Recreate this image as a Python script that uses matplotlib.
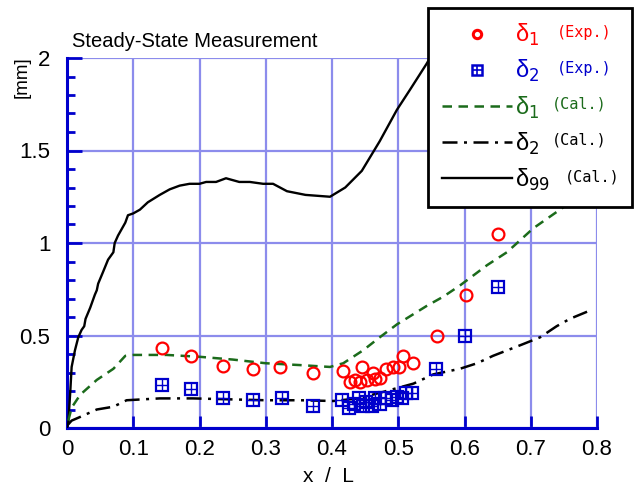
import numpy as np
import matplotlib
matplotlib.use('Agg')
import matplotlib.pyplot as plt
from matplotlib.lines import Line2D
from matplotlib.legend_handler import HandlerTuple

d1ExpX = [0.143, 0.187, 0.235, 0.281, 0.322, 0.372, 0.417, 0.427, 0.435, 0.442, 0.445, 0.453,
          0.462, 0.465, 0.472, 0.482, 0.492, 0.501, 0.507, 0.522, 0.558, 0.602, 0.65]
d1ExpY = [0.43, 0.39, 0.335, 0.32, 0.33, 0.30, 0.31, 0.25, 0.26, 0.25, 0.33, 0.26,
          0.30, 0.265, 0.27, 0.32, 0.33, 0.33, 0.39, 0.35, 0.50, 0.72, 1.05]
d2ExpX = [0.144, 0.187, 0.236, 0.28, 0.324, 0.372, 0.415, 0.425, 0.433, 0.44, 0.447, 0.452,
          0.46, 0.465, 0.472, 0.48, 0.49, 0.498, 0.505, 0.512, 0.52, 0.557, 0.6, 0.65]
d2ExpY = [0.23, 0.21, 0.16, 0.15, 0.16, 0.12, 0.15, 0.11, 0.13, 0.16, 0.12, 0.14,
          0.12, 0.16, 0.13, 0.16, 0.15, 0.17, 0.16, 0.19, 0.19, 0.32, 0.50, 0.76]

# calculated curves
d1CalX = [0.002, 0.007, 0.02, 0.045, 0.07, 0.088, 0.1, 0.15, 0.2, 0.25, 0.3, 0.352, 0.397,
          0.417, 0.447, 0.472, 0.498, 0.543, 0.568, 0.593, 0.634, 0.664, 0.704, 0.744, 0.8]
d1CalY = [0.04, 0.11, 0.18, 0.26, 0.32, 0.39, 0.395, 0.395, 0.385, 0.37, 0.35, 0.34, 0.33,
          0.35, 0.42, 0.49, 0.56, 0.66, 0.71, 0.77, 0.88, 0.95, 1.08, 1.18, 1.32]
d2CalX = [0.002, 0.007, 0.02, 0.045, 0.07, 0.09, 0.14, 0.19, 0.3, 0.352, 0.402, 0.44, 0.477,
          0.523, 0.553, 0.593, 0.619, 0.643, 0.686, 0.714, 0.739, 0.759, 0.786]
d2CalY = [0.02, 0.04, 0.06, 0.1, 0.115, 0.15, 0.16, 0.16, 0.15, 0.15, 0.146, 0.16, 0.195,
          0.24, 0.29, 0.32, 0.35, 0.39, 0.45, 0.49, 0.55, 0.59, 0.63]
d99CalX = [0, 0.002, 0.005, 0.007, 0.012, 0.017, 0.022, 0.026, 0.028, 0.035, 0.042, 0.045,
           0.047, 0.054, 0.062, 0.07, 0.072, 0.077, 0.088, 0.092, 0.1, 0.11, 0.122, 0.14,
           0.155, 0.17, 0.185, 0.2, 0.21, 0.225, 0.24, 0.26, 0.276, 0.296, 0.311, 0.332,
           0.36, 0.397, 0.42, 0.445, 0.472, 0.498, 0.518, 0.543, 0.58, 0.65, 0.8]
d99CalY = [0, 0.03, 0.2, 0.33, 0.42, 0.49, 0.53, 0.55, 0.59, 0.65, 0.72, 0.745,
           0.78, 0.84, 0.91, 0.95, 1.0, 1.04, 1.11, 1.15, 1.16, 1.18, 1.22, 1.26,
           1.29, 1.31, 1.32, 1.32, 1.33, 1.33, 1.35, 1.33, 1.33, 1.32, 1.32, 1.28,
           1.26, 1.25, 1.30, 1.39, 1.55, 1.72, 1.83, 1.97, 2.2, 2.5, 3.0]

xTicks = [0, 0.1, 0.2, 0.3, 0.4, 0.5, 0.6, 0.7, 0.8]
xTickLabels = ['0', '0.1', '0.2', '0.3', '0.4', '0.5', '0.6', '0.7', '0.8']
yTicks = [0, 0.5, 1, 1.5, 2]
yTickLabels = ['0', '0.5', '1', '1.5', '2']

plt.rcParams['font.family'] = ['Liberation Sans', 'DejaVu Sans']
blue = '#0000cc'
gridCol = '#8c8cec'
green = '#1b6b1b'
dashGreen = (3.8, 2.6)
dashDot = (6, 2.6, 1.2, 2.6)

fig = plt.figure(figsize=(6.39, 4.88), dpi=100)
ax = fig.add_axes([67/639, 1-428/488, 530/639, 370/488])

ax.plot(d99CalX, d99CalY, '-', color='black', lw=1.7, zorder=3)
ax.plot(d1CalX, d1CalY, color=green, lw=1.8, dashes=dashGreen, zorder=3)
ax.plot(d2CalX, d2CalY, color='black', lw=1.8, dashes=dashDot, zorder=3)
ax.plot(d1ExpX, d1ExpY, 'o', ms=8.5, mfc='none', mec='red', mew=1.6, zorder=4)
ax.plot(d2ExpX, d2ExpY, 's', ms=8, mfc='none', mec=blue, mew=1.6, zorder=4)
ax.plot(d2ExpX, d2ExpY, '+', ms=8, mec=blue, mew=1.0, zorder=4)

ax.set_xlim(0, 0.8)
ax.set_ylim(0, 2)
ax.set_xticks(xTicks)
ax.set_xticklabels(xTickLabels)
ax.set_yticks(yTicks)
ax.set_yticklabels(yTickLabels)
ax.set_yticks(np.arange(0, 2.01, 0.1), minor=True)
ax.grid(True, color=gridCol, lw=1.6, zorder=0)
ax.set_axisbelow(True)
for s in ['top', 'right']:
    ax.spines[s].set_visible(False)
for s in ['left', 'bottom']:
    ax.spines[s].set_color(blue)
    ax.spines[s].set_linewidth(2.2)
ax.tick_params(axis='y', which='major', direction='in', length=11, width=2, color=blue,
               labelsize=16, pad=12)
ax.tick_params(axis='y', which='minor', direction='in', length=5.5, width=2, color=blue)
ax.tick_params(axis='x', which='major', direction='in', length=9, width=2, color=blue,
               labelsize=16, pad=8)

fig.text(72/639, 1-47/488, 'Steady-State Measurement', fontsize=14.5, va='baseline')
fig.text(22/639, 1-77/488, '[mm]', fontsize=13.5, rotation=90, ha='center', va='center')
fig.text(328/639, 1-482/488, 'x  /  L', fontsize=15, ha='center', va='baseline')

# legend
hExp1 = Line2D([], [], ls='none', marker='o', ms=6, mfc='none', mec='red', mew=2.2)
hSq = Line2D([], [], ls='none', marker='s', ms=7, mfc='none', mec=blue, mew=1.8)
hPl = Line2D([], [], ls='none', marker='+', ms=7, mec=blue, mew=1.2)
hCal1 = Line2D([], [], color=green, lw=1.8, dashes=dashGreen)
hCal2 = Line2D([], [], color='black', lw=1.8, dashes=dashDot)
hCal99 = Line2D([], [], color='black', lw=1.7)
labels = ['δ$_{1}$', 'δ$_{2}$', 'δ$_{1}$', 'δ$_{2}$', 'δ$_{99}$']
suffix = ['(Exp.)', '(Exp.)', '(Cal.)', '(Cal.)', '(Cal.)']
sufOffset = [30, 30, 26.5, 26.5, 36]
colors = ['red', blue, green, 'black', 'black']
leg = ax.legend([hExp1, (hSq, hPl), hCal1, hCal2, hCal99], labels,
                handler_map={tuple: HandlerTuple(ndivide=1)},
                loc='upper left', mode='expand', borderaxespad=0,
                bbox_to_anchor=(428/639, 1-208/488, 204/639, 200/488),
                bbox_transform=fig.transFigure, fontsize=17, handlelength=2.95,
                handletextpad=0.15, labelspacing=0.42, borderpad=0.6,
                fancybox=False, framealpha=1, edgecolor='black')
leg.get_frame().set_linewidth(2)
leg.set_zorder(10)
for t, c, sfx, off in zip(leg.get_texts(), colors, suffix, sufOffset):
    t.set_color(c)
    ann = ax.annotate(sfx, xy=(0, 0.62), xycoords=t, xytext=(off, 0), textcoords='offset points',
                      va='center', ha='left', color=c, fontsize=11, family='DejaVu Sans Mono',
                      annotation_clip=False)
    ann.set_zorder(11)

fig.savefig('out.png', dpi=100)
